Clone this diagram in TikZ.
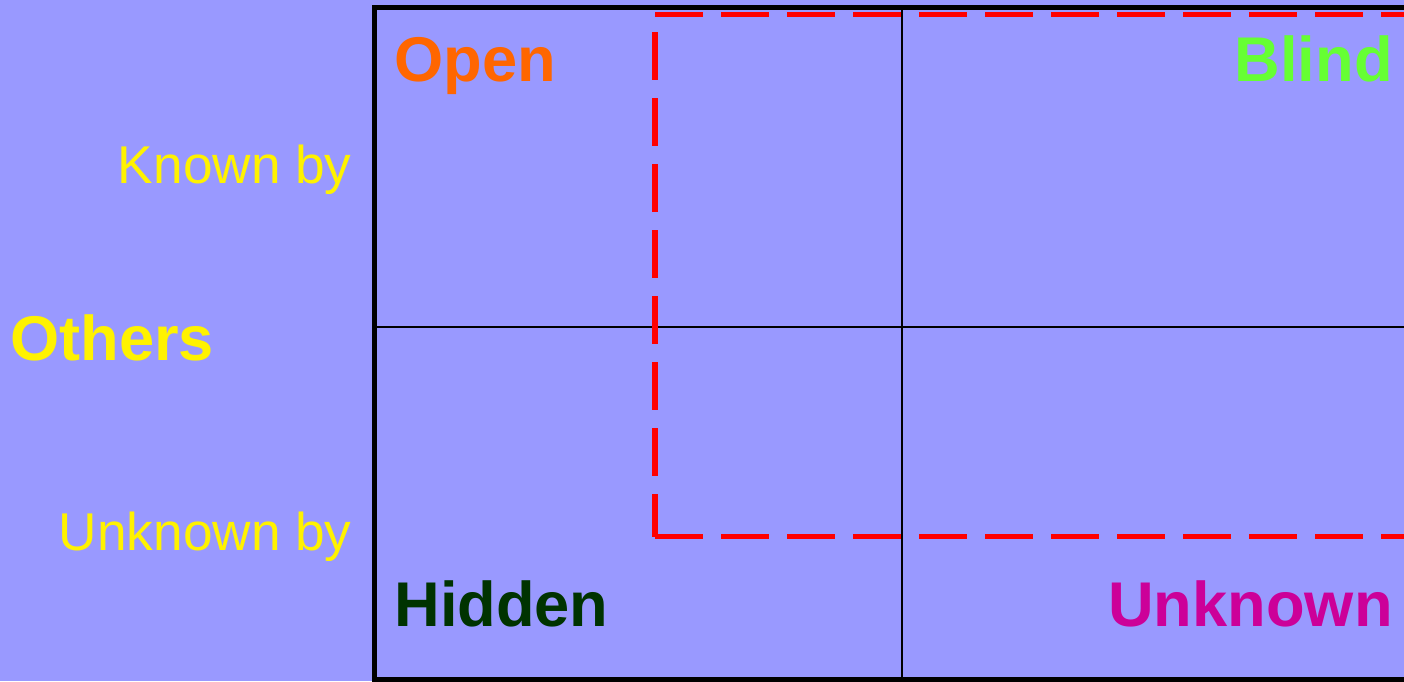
\documentclass[tikz,border=0pt]{standalone}
\usepackage{fontspec}
\setmainfont{Liberation Sans}
\definecolor{bgblue}{HTML}{9999FF}
\definecolor{openorange}{HTML}{FF6600}
\definecolor{blindgreen}{HTML}{66FF33}
\definecolor{hiddengreen}{HTML}{003300}
\definecolor{unknownpink}{HTML}{CC0099}
\tikzset{
  bigtag/.style={font=\fontsize{31.6}{38}\selectfont\bfseries, inner sep=0pt},
  sidetag/.style={font=\fontsize{26.6}{32}\selectfont, text=yellow, inner sep=0pt},
  redbox/.style={red, line width=2.7pt, dash pattern=on 24pt off 9pt},
}
\begin{document}
\begin{tikzpicture}[x=0.5pt, y=-0.5pt]
    % Background
    \useasboundingbox (0,0) rectangle (1404,681);
    \fill[bgblue] (0,0) rectangle (1404,681);
    \clip (0,0) rectangle (1404,681);

    % Window grid
    \draw[line width=1pt] (902,7.5) -- (902,679);
    \draw[line width=1pt] (374,327) -- (1420,327);
    \draw[line width=2.5pt] (374,7.5) rectangle (1420,679);

    % Dashed region
    \coordinate (tl) at (655,14.5);
    \coordinate (bl) at (655,536.5);
    \draw[redbox] (tl) -- ++(780,0);
    \draw[redbox] (bl) -- ++(780,0);
    \draw[redbox, dash phase=2.5pt] (bl) -- (tl);

    % Quadrant names
    \node[bigtag, text=openorange, anchor=base west] (open) at (394,81) {Open};
    \node[bigtag, text=blindgreen, anchor=base east] (blind) at (1393,81) {Blind};
    \node[bigtag, text=hiddengreen, anchor=base west] (hidden) at (394,626) {Hidden};
    \node[bigtag, text=unknownpink, anchor=base east] (unknown) at (1393,626) {Unknown};

    % Side labels
    \node[sidetag, anchor=base east] (knownby) at (352,183) {Known by};
    \node[bigtag, text=yellow, anchor=base west] (others) at (10,360) {Others};
    \node[sidetag, anchor=base east] (unknownby) at (352,550) {Unknown by};
\end{tikzpicture}
\end{document}
